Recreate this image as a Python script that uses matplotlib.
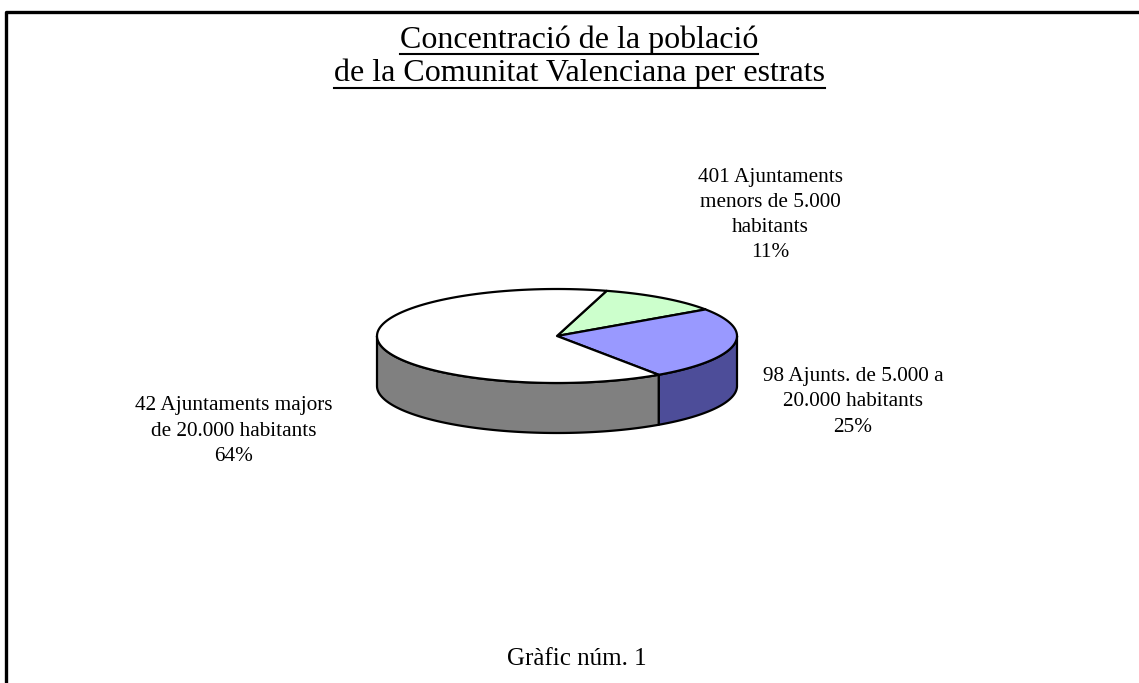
import numpy as np
import matplotlib.pyplot as plt
from matplotlib.patches import Polygon

plt.rcParams['font.family'] = ['Liberation Serif', 'DejaVu Serif']

title_lines = ['Concentració de la població',
               'de la Comunitat Valenciana per estrats']
footer = 'Gràfic núm. 1'

labels = ['401 Ajuntaments\nmenors de 5.000\nhabitants',
          '98 Ajunts. de 5.000 a\n20.000 habitants',
          '42 Ajuntaments majors\nde 20.000 habitants']
shares = [11, 25, 64]
top_colors = ['#ccffcc', '#9999ff', '#ffffff']
side_colors = ['#8fb38f', '#4d4d99', '#808080']

# layout of the 3d pie (pixel coords)
cx, cy = 557, 336
ra, rb = 180, 47
depth = 50
start = 74.0
label_pos = [(770, 215), (853, 402), (234, 431)]

W, H = 1139, 683
fig = plt.figure(figsize=(W / 100, H / 100), dpi=100)
ax = fig.add_axes([0, 0, 1, 1])
ax.set_xlim(0, W)
ax.set_ylim(H, 0)
ax.axis('off')

# frame (top and left visible)
ax.plot([6, 6, W], [H, 12, 12], color='black', lw=2.4, solid_capstyle='butt')


def arc(t1, t2, dz=0, n=120):
    t = np.radians(np.linspace(t1, t2, n))
    return np.column_stack([cx + ra * np.cos(t), cy - rb * np.sin(t) + dz])


# slice angles, clockwise from start
fr = np.array(shares, dtype=float) / sum(shares)
ends = start - 360 * np.cumsum(fr)
begins = np.concatenate([[start], ends[:-1]])

# side walls: only the front half (angles between -180 and 0)
for b, e, col in zip(begins, ends, side_colors):
    for k in (0, -360, 360):
        h2, l2 = min(b + k, 0), max(e + k, -180)
        if h2 > l2:
            top = arc(h2, l2)
            bot = arc(l2, h2, depth)
            ax.add_patch(Polygon(np.vstack([top, bot]), closed=True,
                                 facecolor=col, edgecolor='black', lw=1.6,
                                 joinstyle='round'))

# top faces
for b, e, col in zip(begins, ends, top_colors):
    pts = np.vstack([[cx, cy], arc(b, e)])
    ax.add_patch(Polygon(pts, closed=True, facecolor=col, edgecolor='black',
                         lw=1.6, joinstyle='round'))

for lab, s, (x, y) in zip(labels, shares, label_pos):
    ax.text(x, y, f'{lab}\n{s}%', ha='center', va='center', fontsize=15.3,
            linespacing=1.45)

# title with underline
fig.canvas.draw()
r = fig.canvas.get_renderer()
inv = ax.transData.inverted()
for i, line in enumerate(title_lines):
    t = ax.text(579, 48 + 33 * i, line, ha='center', va='baseline',
                fontsize=23)
    bb = t.get_window_extent(r)
    x0 = inv.transform((bb.x0, 0))[0]
    x1 = inv.transform((bb.x1, 0))[0]
    ax.plot([x0, x1], [54 + 33.5 * i] * 2, color='black', lw=1.5)

ax.text(577, 665, footer, ha='center', va='baseline', fontsize=18)

fig.savefig('out.png', dpi=100)
